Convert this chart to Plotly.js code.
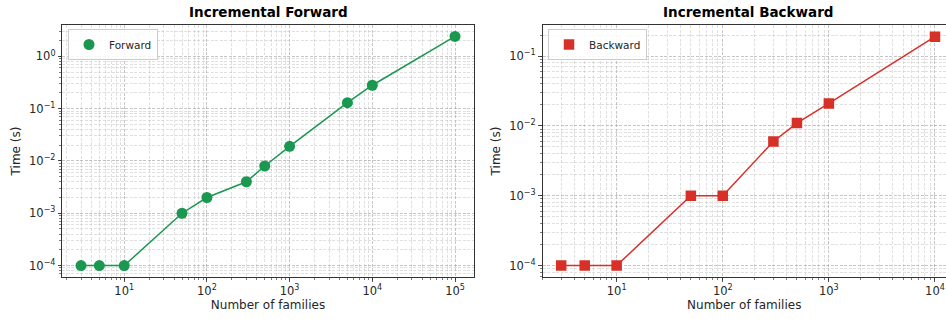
<!DOCTYPE html>
<html>
<head>
<meta charset="utf-8">
<script src="https://cdn.plot.ly/plotly-3.0.1.min.js"></script>
<style>html,body{margin:0;padding:0;background:#fff}#chart{width:946px;height:322px}</style>
</head>
<body>
<div id="chart"></div>
<script>
// Data
const fwdFamilies = [3, 5, 10, 50, 100, 300, 500, 1000, 5000, 10000, 100000];
const fwdTimes = [0.0001, 0.0001, 0.0001, 0.001, 0.002, 0.004, 0.008, 0.019, 0.13, 0.28, 2.4];
const bwdFamilies = [3, 5, 10, 50, 100, 300, 500, 1000, 10000];
const bwdTimes = [0.0001, 0.0001, 0.0001, 0.001, 0.001, 0.006, 0.011, 0.021, 0.19];
const xTickVals = [10, 100, 1000, 10000, 100000];
const xTickText = ['10<sup>1</sup>', '10<sup>2</sup>', '10<sup>3</sup>', '10<sup>4</sup>', '10<sup>5</sup>'];
const yTickVals = [0.0001, 0.001, 0.01, 0.1, 1];
const yTickText = ['10<sup>−4</sup>', '10<sup>−3</sup>', '10<sup>−2</sup>', '10<sup>−1</sup>', '10<sup>0</sup>'];
const titles = ['Incremental Forward', 'Incremental Backward'];
const seriesNames = ['Forward', 'Backward'];

const green = '#1a9850', red = '#d73027';
const font = 'DejaVu Sans, sans-serif';
const gridc = 'rgba(170,170,170,0.6)';

function axisBase(extra) {
  return Object.assign({
    type: 'log',
    showline: true, linecolor: '#333333', linewidth: 1,
    ticks: 'outside', ticklen: 3.5, tickwidth: 0.8, tickcolor: '#262626',
    showgrid: true, gridcolor: gridc, griddash: '3px,1.5px', gridwidth: 0.8,
    zeroline: false,
    tickfont: {family: font, size: 11.5, color: '#262626'},
    tickmode: 'array',
    minor: {dtick: 'D1', ticks: 'outside', ticklen: 2, tickwidth: 0.6, tickcolor: '#262626',
            showgrid: true, gridcolor: gridc, griddash: '3px,1.5px', gridwidth: 0.6},
  }, extra);
}

const traces = [
  {x: fwdFamilies, y: fwdTimes, name: seriesNames[0], type: 'scatter', mode: 'lines+markers',
   xaxis: 'x', yaxis: 'y', showlegend: false,
   line: {color: green, width: 1.5}, marker: {symbol: 'circle', size: 11, color: green}},
  {x: bwdFamilies, y: bwdTimes, name: seriesNames[1], type: 'scatter', mode: 'lines+markers',
   xaxis: 'x2', yaxis: 'y2', showlegend: false,
   line: {color: red, width: 1.5}, marker: {symbol: 'square', size: 10.5, color: red}},
  // legend-only entries (marker only, like the reference legend)
  {x: [null], y: [null], name: seriesNames[0], type: 'scatter', mode: 'markers',
   xaxis: 'x', yaxis: 'y', legend: 'legend', marker: {symbol: 'circle', size: 11, color: green}},
  {x: [null], y: [null], name: seriesNames[1], type: 'scatter', mode: 'markers',
   xaxis: 'x2', yaxis: 'y2', legend: 'legend2', marker: {symbol: 'square', size: 10.5, color: red}},
];

const W = 946, H = 322;
const yDom = [1 - 277 / H, 1 - 25 / H];
const legendCommon = {
  bgcolor: 'rgba(255,255,255,0.85)', bordercolor: '#cccccc', borderwidth: 1,
  font: {family: font, size: 10.5, color: '#262626'},
  xanchor: 'left', yanchor: 'top', itemwidth: 30, tracegroupgap: 0,
};

const layout = {
  width: W, height: H,
  margin: {l: 0, r: 0, t: 0, b: 0},
  paper_bgcolor: '#fff', plot_bgcolor: '#fff',
  showlegend: true,
  legend: Object.assign({x: 68 / W, y: 1 - 29 / H}, legendCommon),
  legend2: Object.assign({x: 548 / W, y: 1 - 29 / H}, legendCommon),
  xaxis: axisBase({domain: [62.3 / W, 473.7 / W], anchor: 'y', mirror: true,
    range: [0.251, 5.226], tickvals: xTickVals, ticktext: xTickText,
    title: {text: 'Number of families', font: {family: font, size: 12, color: '#262626'}, standoff: 3}}),
  yaxis: axisBase({domain: yDom, anchor: 'x', mirror: true,
    range: [-4.219, 0.599], tickvals: yTickVals, ticktext: yTickText,
    title: {text: 'Time (s)', font: {family: font, size: 12, color: '#262626'}, standoff: 5}}),
  xaxis2: axisBase({domain: [542.5 / W, 1], anchor: 'y2', mirror: true,
    range: [0.301, 4.104], tickvals: xTickVals, ticktext: xTickText,
    title: {text: 'Number of families', font: {family: font, size: 12, color: '#262626'}, standoff: 3}}),
  yaxis2: axisBase({domain: yDom, anchor: 'x2', mirror: false,
    range: [-4.164, -0.554], tickvals: yTickVals, ticktext: yTickText,
    title: {text: 'Time (s)', font: {family: font, size: 12, color: '#262626'}, standoff: 5}}),
  annotations: [
    {text: '<b>' + titles[0] + '</b>', xref: 'paper', yref: 'paper', x: 268 / W, y: 1 - 12 / H,
     xanchor: 'center', yanchor: 'middle', showarrow: false, font: {family: font, size: 13.5, color: '#000'}},
    {text: '<b>' + titles[1] + '</b>', xref: 'paper', yref: 'paper', x: 748 / W, y: 1 - 12 / H,
     xanchor: 'center', yanchor: 'middle', showarrow: false, font: {family: font, size: 13.5, color: '#000'}},
  ],
};

Plotly.newPlot('chart', traces, layout, {displayModeBar: false, staticPlot: true});
</script>
</body>
</html>
